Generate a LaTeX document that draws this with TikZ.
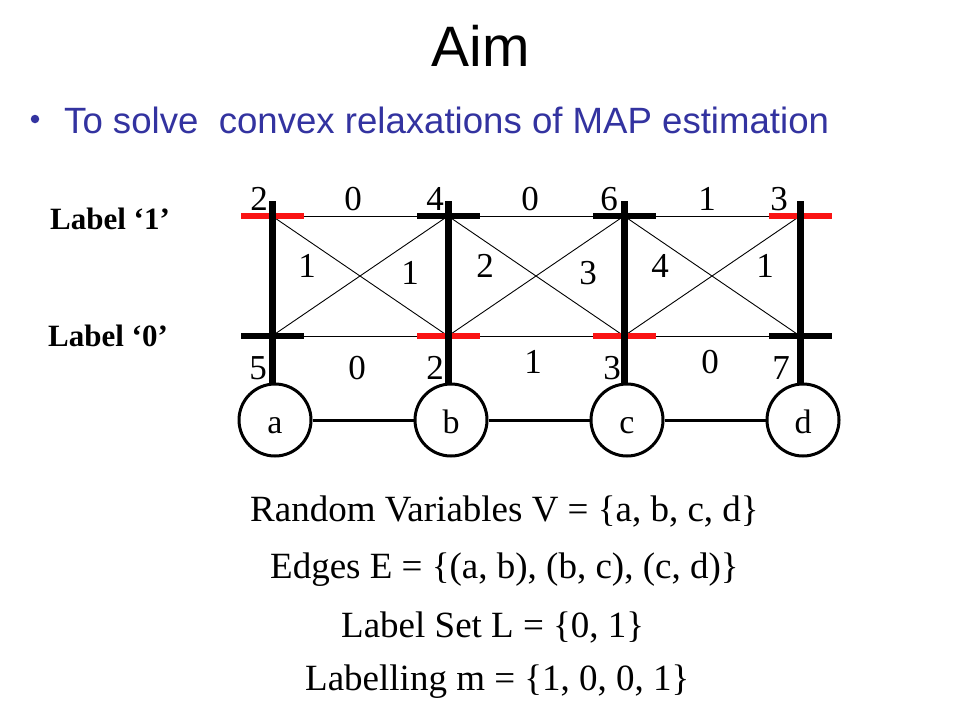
\documentclass[tikz,border=0pt]{standalone}
\usepackage{fontspec}
\setmainfont{Liberation Serif}
\newfontfamily\arialfont{Liberation Sans}
\definecolor{slideblue}{RGB}{51,51,160}
\definecolor{tickred}{RGB}{250,20,20}
\begin{document}
\begin{tikzpicture}[x=1pt,y=-1pt,
  thinline/.style={draw=black,line width=0.9pt},
  barline/.style={draw=black,line width=7pt},
  tickblack/.style={draw=black,line width=6.5pt},
  tickredl/.style={draw=tickred,line width=6.5pt},
  edgeline/.style={draw=black,line width=3pt},
  var/.style={circle,draw=black,line width=3pt,minimum size=72pt,inner sep=0pt,text height=26pt,text depth=0pt,font=\fontsize{34}{34}\selectfont},
  num/.style={inner sep=0pt,font=\fontsize{35}{35}\selectfont},
  lab/.style={inner sep=0pt,anchor=west,font=\fontsize{31}{31}\selectfont\bfseries},
  info/.style={inner sep=0pt,anchor=west,font=\fontsize{37}{37}\selectfont},
]
\useasboundingbox[fill=white] (0,0) rectangle (960,720);

% title and bullet
\node[inner sep=0pt,font=\arialfont\fontsize{57}{57}\selectfont] (title) at (481,46) {Aim};
\node[circle,fill=slideblue,inner sep=0pt,minimum size=8.5pt] (bullet) at (35,119) {};
\node[inner sep=0pt,anchor=west,text=slideblue,font=\arialfont\fontsize{36.6}{36.6}\selectfont] (aimtext) at (64,120) {To solve\ \ convex relaxations of MAP estimation};

% row labels
\node[lab] (l1) at (50,219) {Label ‘1’};
\node[lab] (l0) at (48,336) {Label ‘0’};

% label coordinates
\coordinate (a1) at (272,216); \coordinate (a0) at (272,336);
\coordinate (b1) at (448,216); \coordinate (b0) at (448,336);
\coordinate (c1) at (624,216); \coordinate (c0) at (624,336);
\coordinate (d1) at (800,216); \coordinate (d0) at (800,336);
\coordinate (at) at (272,201); \coordinate (bt) at (448,201);
\coordinate (ct) at (624,201); \coordinate (dt) at (800,201);

% variable nodes
\node[var] (a) at (275,420) {a};
\node[var] (b) at (451,420) {b};
\node[var] (c) at (627,420) {c};
\node[var] (d) at (803,420) {d};
\draw[edgeline] (a) -- (b);
\draw[edgeline] (b) -- (c);
\draw[edgeline] (c) -- (d);

% thin pairwise lines
\foreach \p/\q in {a/b,b/c,c/d}{
  \draw[thinline] (\p1) -- (\q1);
  \draw[thinline] (\p0) -- (\q0);
  \draw[thinline] (\p1) -- (\q0);
  \draw[thinline] (\p0) -- (\q1);
}

% ticks
\draw[tickredl]   ([xshift=-31]a1) -- ([xshift=32]a1);
\draw[tickblack]  ([xshift=-31]a0) -- ([xshift=32]a0);
\draw[tickblack]  ([xshift=-31]b1) -- ([xshift=32]b1);
\draw[tickredl]   ([xshift=-31]b0) -- ([xshift=32]b0);
\draw[tickblack]  ([xshift=-31]c1) -- ([xshift=32]c1);
\draw[tickredl]   ([xshift=-31]c0) -- ([xshift=32]c0);
\draw[tickredl]   ([xshift=-31]d1) -- ([xshift=32]d1);
\draw[tickblack]  ([xshift=-31]d0) -- ([xshift=32]d0);

% vertical bars
\draw[barline] (at) -- (at |- a.north);
\draw[barline] (bt) -- (bt |- b.north);
\draw[barline] (ct) -- (ct |- c.north);
\draw[barline] (dt) -- (dt |- d.north);

% unary potentials
\node[num] (ua1) at (259,199) {2};
\node[num] (ub1) at (435,199) {4};
\node[num] (uc1) at (609,199) {6};
\node[num] (ud1) at (779,199) {3};
\node[num] (ua0) at (258,368) {5};
\node[num] (ub0) at (435,368) {2};
\node[num] (uc0) at (612,368) {3};
\node[num] (ud0) at (781,368) {7};

% pairwise potentials
\node[num] (pab11) at (353,199) {0};
\node[num] (pbc11) at (530,199) {0};
\node[num] (pcd11) at (707,199) {1};
\node[num] (pab00) at (357,368) {0};
\node[num] (pbc00) at (533,362) {1};
\node[num] (pcd00) at (710,362) {0};
\node[num] (pab10) at (307,266) {1};
\node[num] (pab01) at (410,273) {1};
\node[num] (pbc10) at (485,266) {2};
\node[num] (pbc01) at (588,273) {3};
\node[num] (pcd10) at (660,266) {4};
\node[num] (pcd01) at (765,266) {1};

% description
\node[info] (rv) at (250,512) {Random Variables V = \{a, b, c, d\}};
\node[info] (ed) at (270,570) {Edges E = \{(a, b), (b, c), (c, d)\}};
\node[info] (ls) at (341,627) {Label Set L = \{0, 1\}};
\node[info] (lm) at (305,682) {Labelling m = \{1, 0, 0, 1\}};
\end{tikzpicture}
\end{document}
